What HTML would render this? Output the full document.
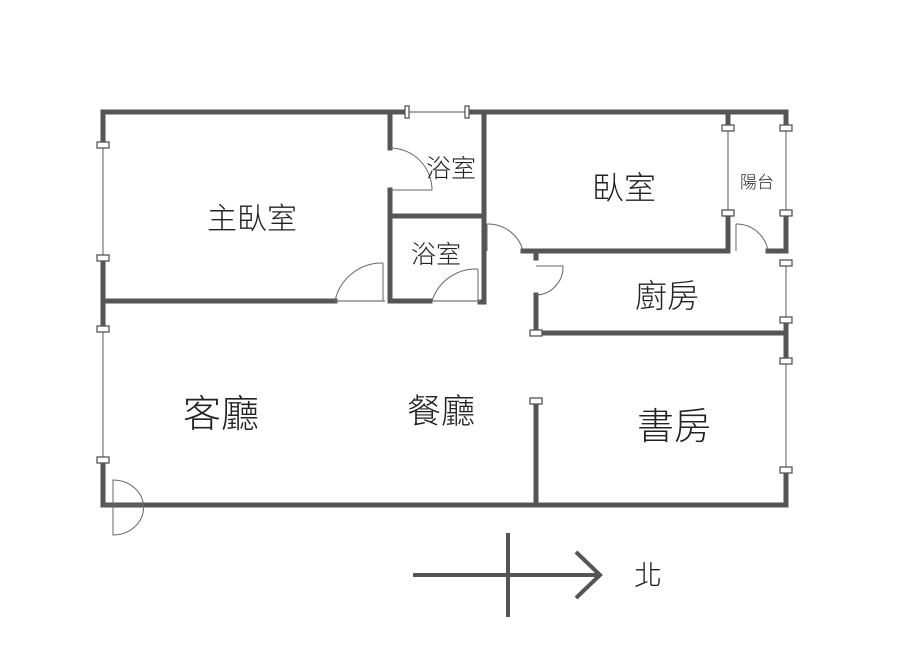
<!DOCTYPE html>
<html><head><meta charset="utf-8"><style>
html,body{margin:0;padding:0;background:#fff;width:900px;height:649px;overflow:hidden}
text{font-family:"Liberation Sans","Noto Sans CJK TC",sans-serif;fill:#222;font-weight:300}
</style></head><body>
<svg width="900" height="649" viewBox="0 0 900 649" xmlns="http://www.w3.org/2000/svg">
<g stroke="#555" stroke-width="5" fill="none" stroke-linecap="square">
<path d="M103 112 H407 M467 112 H786 V128"/>
<path d="M103 112 V145 M103 258 V329 M103 460 V505 H786 V470 M786 361 V333"/>
<path d="M103 301 H335"/>
<path d="M390 117 V148 M390 190 V301 H430 M390 216 H484 M484 112 V302 H480"/>
<path d="M523 251 H728 V213 M728 128 V112 M768 251 H786 V213"/>
<path d="M536 251 V258 M536 295 V333 H786 V320"/>
<path d="M536 403 V505"/>
</g>
<g stroke="#777" stroke-width="1.2" fill="none">
<path d="M103 145 V258 M103 329 V460 M407 112 H467 M728 128 V213 M786 128 V213 M786 263 V320 M786 361 V470"/>
<path d="M385 301 H335 M432 301 H480"/>
</g>
<g fill="#fff" stroke="#555" stroke-width="1.3">
<rect x="97" y="142" width="12" height="6"/><rect x="97" y="255" width="12" height="6"/>
<rect x="97" y="326" width="12" height="6"/><rect x="97" y="457" width="12" height="6"/>
<rect x="405" y="106" width="4" height="12"/><rect x="465" y="106" width="4" height="12"/>
<rect x="722" y="125" width="12" height="6"/><rect x="722" y="210" width="12" height="6"/>
<rect x="780" y="125" width="12" height="6"/><rect x="780" y="210" width="12" height="6"/>
<rect x="780" y="260" width="12" height="6"/><rect x="780" y="317" width="12" height="6"/>
<rect x="780" y="358" width="12" height="6"/><rect x="780" y="467" width="12" height="6"/>
<rect x="530" y="330" width="12" height="6"/><rect x="530" y="398" width="12" height="6"/>
</g>
<g stroke="#666" stroke-width="1" fill="none">
<path d="M390 148 A42 42 0 0 1 432 190 H390"/>
<path d="M383 263 V301 M383 263 A48 48 0 0 0 335 301"/>
<path d="M478 269 V301 M478 269 A46 46 0 0 0 432 301"/>
<path d="M487 224 V251 M487 224 A36 36 0 0 1 523 251"/>
<path d="M736 224 V251 M736 224 A32 32 0 0 1 768 251"/>
<path d="M536 266 H563 A28 28 0 0 1 536 295"/>
<path d="M113 480 A30 27 0 0 1 113 535 Z M103 505 H143"/>
</g>
<text x="252" y="229" font-size="30" text-anchor="middle">主臥室</text>
<text x="451" y="177" font-size="25" text-anchor="middle">浴室</text>
<text x="436" y="263" font-size="25" text-anchor="middle">浴室</text>
<text x="624" y="199" font-size="32" text-anchor="middle">臥室</text>
<text x="757" y="188" font-size="17" text-anchor="middle">陽台</text>
<text x="667" y="307" font-size="32" text-anchor="middle">廚房</text>
<text x="221" y="427" font-size="38" text-anchor="middle">客廳</text>
<text x="441" y="423" font-size="34" text-anchor="middle">餐廳</text>
<text x="674" y="439" font-size="37" text-anchor="middle">書房</text>
<g stroke="#555" stroke-width="4" fill="none">
<path d="M413 575 H600 M508 533 V617 M576 552 L600 575 L576 598"/>
</g>
<text x="648" y="585" font-size="28" text-anchor="middle">北</text>
</svg>
</body></html>
